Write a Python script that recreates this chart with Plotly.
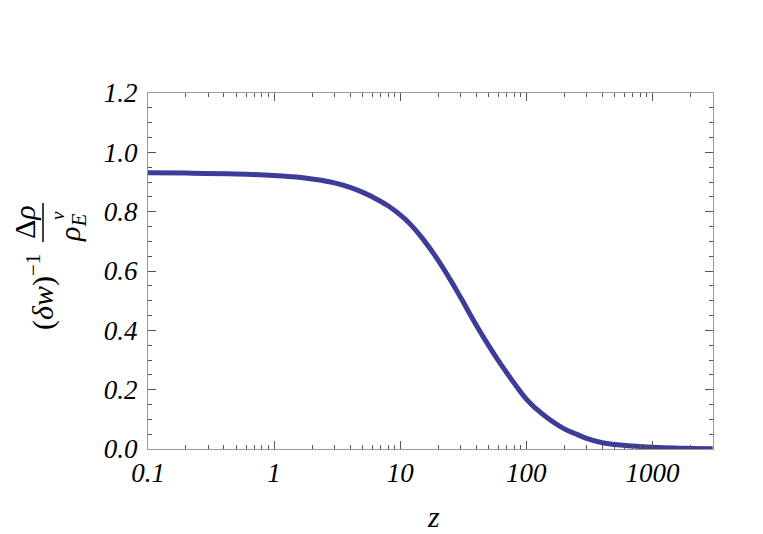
import plotly.graph_objects as go

# values
z = [0.1, 0.2, 0.5, 1, 1.5, 2, 3, 4, 5, 6, 8, 10, 12, 15, 20, 25, 30, 40,
     50, 60, 80, 100, 120, 150, 200, 250, 300, 400, 500, 700, 1000, 1500,
     2000, 3000]
ratio = [0.931, 0.930, 0.927, 0.922, 0.917, 0.910, 0.897, 0.882, 0.866,
         0.850, 0.820, 0.789, 0.758, 0.710, 0.636, 0.570, 0.512, 0.418,
         0.350, 0.298, 0.222, 0.168, 0.135, 0.102, 0.068, 0.050, 0.036,
         0.021, 0.015, 0.010, 0.006, 0.003, 0.002, 0.001]

x_ticks = [0.1, 1, 10, 100, 1000]
x_ticktext = ["0.1", "1", "10", "100", "1000"]
x_minor = [k * 10.0 ** e for e in range(-1, 4) for k in range(2, 10)
           if k * 10.0 ** e <= 3000]
y_ticks = [0.0, 0.2, 0.4, 0.6, 0.8, 1.0, 1.2]

# page has an 8px body margin, so the figure is shifted by that much
OFF = 8
W, H = 763 - OFF, 534 - OFF
L, R, T, B = 148 - OFF, 50, 93 - OFF, 93 - OFF
PW, PH = W - L - R, H - T - B


def px(x):
    return (x - OFF - L) / PW


def py(y):
    return (H - B - (y - OFF)) / PH


serif = "Times New Roman, Liberation Serif, serif"
frame = "#9a9a9a"
tick = "#555555"

fig = go.Figure()
fig.add_trace(go.Scatter(
    x=z, y=ratio, mode="lines",
    line=dict(color="#3d3d99", width=5, shape="spline", smoothing=1.2),
    hoverinfo="skip", showlegend=False,
))

fig.update_xaxes(
    type="log", range=[-1, 3.48],
    tickvals=x_ticks, ticktext=x_ticktext,
    ticks="inside", ticklen=8, tickwidth=1, tickcolor=tick,
    minor=dict(tickmode="array", tickvals=x_minor, ticks="inside",
               ticklen=4, tickcolor=tick, showgrid=False),
    showline=True, linecolor=frame, linewidth=1, mirror="allticks",
    showgrid=False, zeroline=False,
    tickfont=dict(family=serif, size=27, color="black", style="italic"),
    ticklabelstandoff=0,
)
fig.update_yaxes(
    range=[0, 1.2], tickvals=y_ticks, tickformat=".1f",
    ticks="inside", ticklen=8, tickwidth=1, tickcolor=tick,
    minor=dict(ticks="inside", ticklen=4, dtick=0.05, tickcolor=tick,
               showgrid=False),
    showline=True, linecolor=frame, linewidth=1, mirror="allticks",
    showgrid=False, zeroline=True, zerolinecolor="#333333", zerolinewidth=1,
    tickfont=dict(family=serif, size=27, color="black", style="italic"),
    ticklabelstandoff=4,
)

lab = dict(xref="paper", yref="paper", showarrow=False, textangle=-90,
           xanchor="center", yanchor="middle",
           font=dict(family=serif, size=30, color="black"))
annotations = [
    dict(text="(<i>δw</i>)<sup>−1</sup>", x=px(40), y=py(292), **lab),
    dict(text="Δ<i>ρ</i>", x=px(24), y=py(222), **lab),
    dict(text="<i>ρ</i><sub><i>E</i></sub>", x=px(72), y=py(228), **lab),
    dict(text="<i>ν</i>", x=px(57), y=py(216),
         **{**lab, "font": dict(family=serif, size=19, color="black")}),
    dict(text="<i>z</i>", x=px(433), y=py(516), xref="paper", yref="paper",
         showarrow=False, xanchor="center", yanchor="middle",
         font=dict(family=serif, size=30, color="black")),
]

shapes = [dict(type="line", xref="paper", yref="paper",
               x0=px(43), x1=px(43), y0=py(203), y1=py(242),
               line=dict(color="black", width=1.5))]

fig.update_layout(
    width=W, height=H,
    margin=dict(l=L, r=R, t=T, b=B),
    paper_bgcolor="white", plot_bgcolor="white",
    annotations=annotations, shapes=shapes,
)

fig.write_html("out.html")
